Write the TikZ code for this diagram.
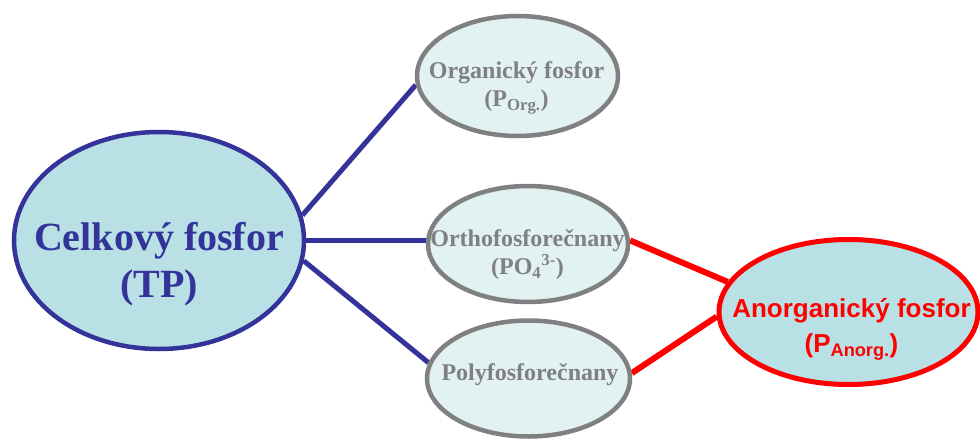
\documentclass[tikz,border=0pt]{standalone}
\usepackage{fontspec}
\setmainfont{Liberation Serif}
\newfontfamily\arialfont{Liberation Sans}
\usepackage{xcolor}
\usetikzlibrary{shapes,backgrounds}

\definecolor{tpblue}{RGB}{51,51,153}
\definecolor{tpfill}{RGB}{185,224,228}
\definecolor{subfill}{RGB}{226,242,243}
\definecolor{subgray}{RGB}{128,128,128}
\definecolor{anred}{RGB}{255,0,0}

\begin{document}
\begin{tikzpicture}[
    x=1pt, y=-1pt,
    bigell/.style={ellipse, draw=tpblue, fill=tpfill, line width=4.5pt, minimum width=290pt, minimum height=217pt, inner sep=0pt},
    subell/.style={ellipse, draw=subgray, fill=subfill, line width=4.5pt, minimum width=200pt, minimum height=116pt, inner sep=0pt},
    anell/.style={ellipse, draw=anred, fill=tpfill, line width=5pt, minimum width=259pt, minimum height=145pt, inner sep=0pt},
    bigtxt/.style={text=tpblue, font=\fontsize{40}{47}\selectfont\bfseries, align=center, inner sep=0pt},
    subtxt/.style={text=subgray, font=\fontsize{24}{28}\selectfont\bfseries, align=center, inner sep=0pt},
    antxt/.style={text=anred, font=\arialfont\fontsize{26}{35}\selectfont\bfseries, align=center, inner sep=0pt},
    blueline/.style={draw=tpblue, line width=5pt},
    redline/.style={draw=anred, line width=6pt}
]
\useasboundingbox (0,0) rectangle (980,439);

% Left - total phosphorus
\node[bigell] (tp) at (159,240.5) {};
\node[bigtxt] (tp-txt) at (159,264) {Celkový fosfor\\(TP)};

% Middle column
\node[subell, minimum width=201pt, minimum height=120pt] (org) at (517.5,76) {};
\node[subtxt] (org-txt) at (516.5,88) {Organický fosfor\\(P\textsubscript{Org.})};

\node[subell] (ortho) at (528,244) {};
\node[subtxt] (ortho-txt) at (527.5,254.5) {Orthofosforečnany\\(PO\textsubscript{4}\textsuperscript{3-})};

\node[subell, minimum width=203pt] (poly) at (528.5,378.5) {};
\node[subtxt, anchor=base] (poly-txt) at (530,380) {Polyfosforečnany};

% Right - inorganic phosphorus
\node[anell] (anorg) at (848.5,312) {};
\node[antxt] (anorg-txt) at (851.5,329.5) {Anorganický fosfor\\(P\textsubscript{Anorg.})};

% Connectors
\begin{scope}[on background layer]
\draw[blueline] (tp.10) -- (org.185);
\draw[blueline] (tp.east) -- (tp.east -| ortho.west);
\draw[blueline] (tp.-8) -- (poly.171);
\draw[redline] (ortho.2) -- (anorg.166);
\draw[redline] (poly.3) -- (anorg.182);
\end{scope}

\end{tikzpicture}
\end{document}
